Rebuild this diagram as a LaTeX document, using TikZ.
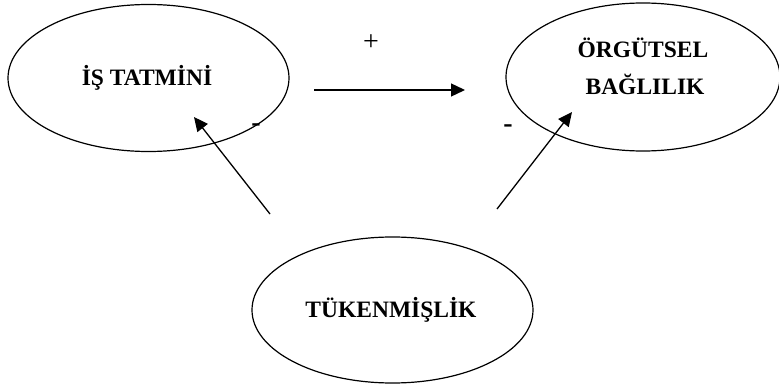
\documentclass[tikz,border=0pt]{standalone}
\usepackage{fontspec}
\setmainfont{Liberation Serif}
\usetikzlibrary{shapes.geometric,arrows.meta}
\begin{document}
\begin{tikzpicture}[x=1pt,y=-1pt,
  oval/.style={draw=black,line width=1.2pt,ellipse,inner sep=0pt},
  txt/.style={align=center,inner sep=0pt,font=\bfseries\fontsize{23.5}{37}\selectfont},
  arr/.style={line width=1.3pt,-{Triangle[length=14pt,width=13pt]}},
  sign/.style={font=\fontsize{28}{30}\selectfont,inner sep=0pt}]
\useasboundingbox (0,0) rectangle (779,385);
\node[oval,minimum width=281pt,minimum height=147pt] (is) at (148.5,78) {};
\node[oval,minimum width=274pt,minimum height=148pt] (org) at (643,77) {};
\node[oval,minimum width=281pt,minimum height=146pt] (tuk) at (392.5,310) {};
\node[txt,anchor=base] (ist) at (147,86) {İŞ TATMİNİ};
\node[txt,anchor=base] (orgt1) at (643,58) {ÖRGÜTSEL};
\node[txt,anchor=base] (orgt2) at (645,95) {BAĞLILIK};
\node[txt,anchor=base] (tukt) at (391,317) {TÜKENMİŞLİK};
\coordinate (a1s) at (314,90);
\coordinate (a1e) at (465,90);
\coordinate (a2s) at (270,214);
\coordinate (a2e) at (194,117);
\coordinate (a3s) at (497,209);
\coordinate (a3e) at (572,112);
\draw[arr] (a1s) -- (a1e);
\draw[arr] (a2s) -- (a2e);
\draw[arr] (a3s) -- (a3e);
\node[sign] (plus) at (371,43) {+};
\node[sign,font=\bfseries\fontsize{28}{30}\selectfont] (m1) at (256,128) {-};
\node[sign,font=\bfseries\fontsize{28}{30}\selectfont] (m2) at (508,129) {-};
\end{tikzpicture}
\end{document}
